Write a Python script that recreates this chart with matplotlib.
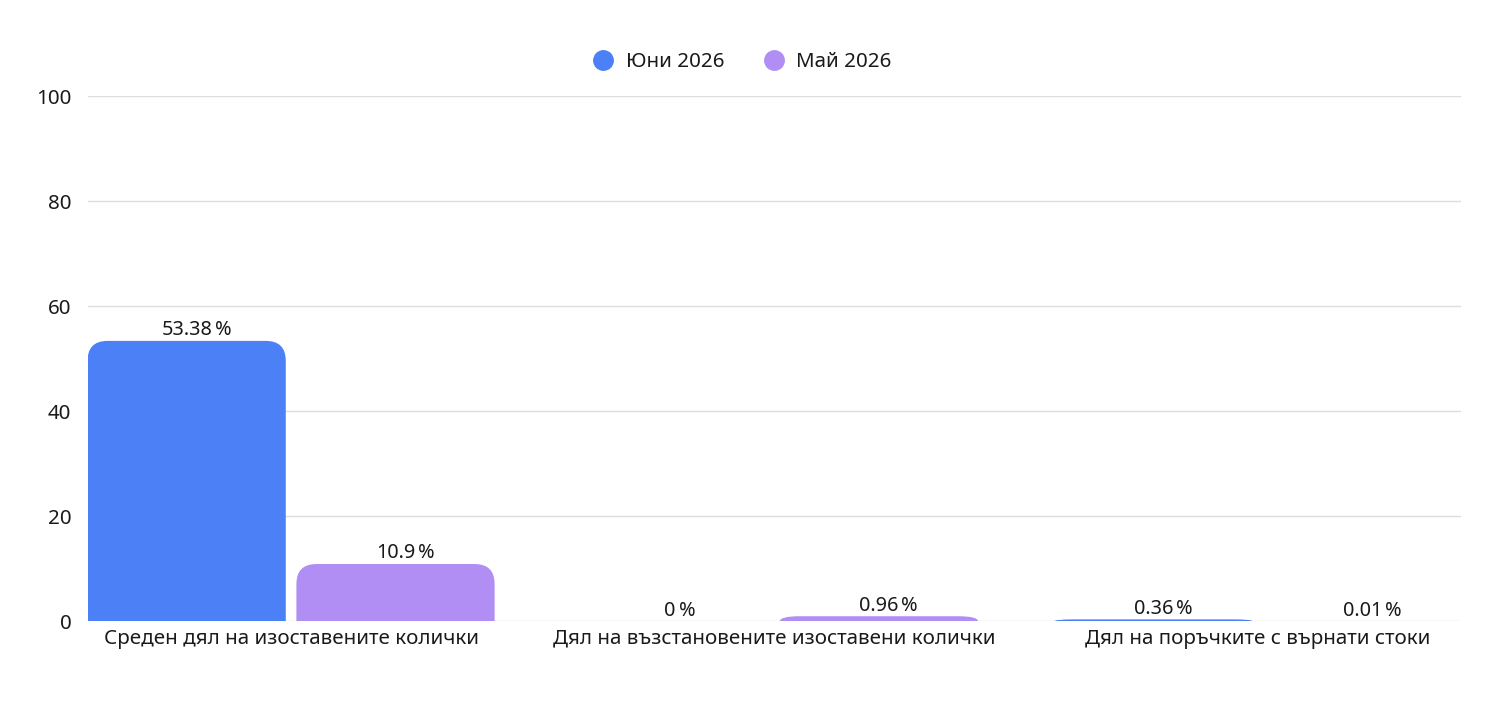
import matplotlib
matplotlib.use("Agg")
import matplotlib.pyplot as plt
from matplotlib.path import Path
from matplotlib.patches import PathPatch
import numpy as np

plt.rcParams['font.family'] = ['Noto Sans', 'DejaVu Sans']

categories = [
    "Среден дял на изоставените колички",
    "Дял на възстановените изоставени колички",
    "Дял на поръчките с върнати стоки",
]
series_names = ["Юни 2026", "Май 2026"]
june = [53.38, 0, 0.36]
may = [10.9, 0.96, 0.01]
yticks = [0, 20, 40, 60, 80, 100]

colors = ["#4b80f7", "#b08ef4"]
text_color = "#1a1a1a"


def rounded_top(ax, bar, radius_px=20):
    # replace a plain bar with one that has rounded upper corners
    x, y = bar.get_x(), bar.get_y()
    w, h = bar.get_width(), bar.get_height()
    if h <= 0:
        bar.remove()
        return
    p0 = ax.transData.transform((0, 0))
    p1 = ax.transData.transform((1, 1))
    ux, uy = p1[0] - p0[0], p1[1] - p0[1]
    rx = min(radius_px / ux, w / 2)
    ry = min(radius_px / uy, h)
    verts = [
        (x, y), (x, y + h - ry),
        (x, y + h), (x + rx, y + h),
        (x + w - rx, y + h),
        (x + w, y + h), (x + w, y + h - ry),
        (x + w, y), (x, y),
    ]
    codes = [Path.MOVETO, Path.LINETO, Path.CURVE3, Path.CURVE3, Path.LINETO,
             Path.CURVE3, Path.CURVE3, Path.LINETO, Path.CLOSEPOLY]
    patch = PathPatch(Path(verts, codes), facecolor=bar.get_facecolor(),
                      edgecolor="none", zorder=3)
    ax.add_patch(patch)
    bar.remove()


fig = plt.figure(figsize=(15, 7.06), dpi=100)
ax = fig.add_axes([0.0587, 0.120, 0.9153, 0.744])

x = np.arange(len(categories))
width = 0.41
offset = 0.216

ax.set_xlim(-0.42, 2.42)
ax.set_ylim(0, 100)

bars1 = ax.bar(x - offset, june, width, color=colors[0], label=series_names[0], zorder=3)
bars2 = ax.bar(x + offset, may, width, color=colors[1], label=series_names[1], zorder=3)

# number centred on the bar, percent sign appended after it
for xs, vals in [(x - offset, june), (x + offset, may)]:
    for xi, v in zip(xs, vals):
        num = ax.annotate(f"{v:g}", (xi, v), xytext=(0, 0.5), textcoords="offset points",
                          ha="center", va="bottom", fontsize=14.3, color=text_color, zorder=4)
        ax.annotate("%", (1, 0), xycoords=num, xytext=(2, 0), textcoords="offset points",
                    ha="left", va="bottom", fontsize=14.3, color=text_color, zorder=4)

for b in list(bars1) + list(bars2):
    rounded_top(ax, b)

ax.set_yticks(yticks)
ax.set_xticks(x)
ax.set_xticklabels(categories)
ax.tick_params(axis="both", length=0, labelsize=14.8, colors=text_color)
ax.tick_params(axis="y", pad=12)
ax.tick_params(axis="x", pad=5.5)
ax.yaxis.grid(True, color="#dddddd", linewidth=1)
ax.set_axisbelow(True)
for s in ax.spines.values():
    s.set_visible(False)

handles = [plt.Line2D([], [], marker="o", linestyle="none", markersize=14,
                      markerfacecolor=c, markeredgecolor=c) for c in colors]
fig.legend(handles, series_names, loc="center", bbox_to_anchor=(0.4915, 0.912),
           ncol=2, frameon=False, fontsize=14.8, handletextpad=0.1, columnspacing=1.4,
           labelcolor=text_color)

fig.savefig("out.png", dpi=100, facecolor="white")
